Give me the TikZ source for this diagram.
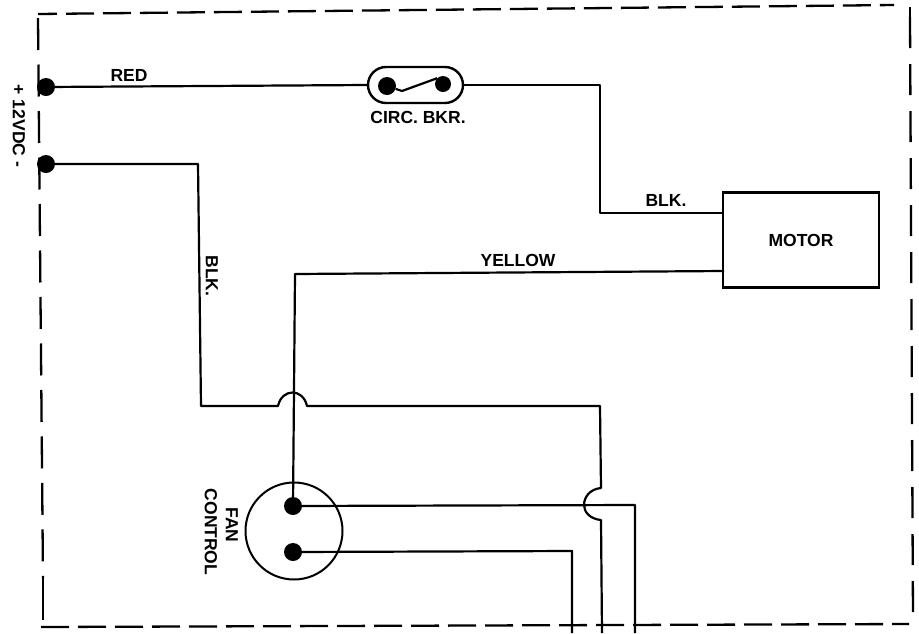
\documentclass[tikz,border=0pt]{standalone}
\usepackage{fontspec}
\setmainfont{Liberation Sans}
\usetikzlibrary{positioning}

\tikzset{
    wire/.style={line width=2.2pt, line join=round},
    border/.style={line width=2.3pt},
    terminal/.style={circle, fill=black, inner sep=0pt, minimum size=18pt},
    wirelabel/.style={font=\fontsize{17.5}{20}\selectfont\bfseries, inner sep=0pt}
}

\begin{document}
\begin{tikzpicture}[x=1pt, y=-1pt]
    \useasboundingbox (0, 0) rectangle (919, 633);

    % Draw the dashed enclosure, side by side
    \draw[border, dash pattern=on 28pt off 9pt, dash phase=9pt] (38, 14) -- (894, 5);
    \draw[border, dash pattern=on 31pt off 16pt] (910, 17) -- (913, 618);
    \draw[border] (910, 7) -- (910, 17);
    \draw[border, dash pattern=on 32pt off 14.5pt] (38, 18) -- (43, 578);
    \draw[border] (43, 578) -- (43, 620);
    \draw[border, dash pattern=on 28pt off 9pt] (41, 627) -- (909, 624);

    % Add the supply terminals
    \foreach \name/\y in {supplyplus/87, supplyminus/164} {
        \node[terminal] (\name) at (46, \y) {};
    }

    % Add the boxes
    \node[draw, line width=2.4pt, minimum width=156pt, minimum height=95pt, inner sep=0pt,
        wirelabel] (motor) at (801, 240) {\raisebox{-2pt}{MOTOR}};
    \node[draw, line width=2.4pt, rounded corners=18pt, minimum width=95pt, minimum height=36pt]
        (breaker) at (415.5, 85) {};
    \node[draw, circle, line width=2pt, minimum size=97pt, inner sep=0pt] (fan) at (294, 531) {};

    % Add the breaker and fan terminals
    \foreach \name/\x/\y/\size in {brkleft/387/86/18pt, brkright/443/84/16pt, fantop/293/506/18pt, fanbottom/293/552/18pt} {
        \node[terminal, minimum size=\size] (\name) at (\x, \y) {};
    }

    % Free ends of the wires
    \coordinate (motorin) at (724, 213);
    \coordinate (motorout) at (724, 271);
    \coordinate (exitone) at (572, 633);
    \coordinate (exittwo) at (602, 633);
    \coordinate (exitthree) at (635, 633);

    % Draw the wires
    \draw[wire] (supplyplus) -- (breaker.west);
    \draw[wire] (breaker.east) -- (600, 85) -- (600, 213) -- (motorin);
    \draw[wire] (brkleft) -- (402, 91) -- (brkright.north west);
    \draw[wire] (motorout) -- (295, 274) -- (fantop);
    \draw[wire] (supplyminus) -- (198, 164) -- (201, 406) -- (278, 406)
        .. controls (282, 388) and (303, 388) .. (307, 406)
        -- (600, 406) -- (601, 488)
        .. controls (590, 489) and (584, 497) .. (584, 505)
        .. controls (584, 512) and (590, 519) .. (601, 520) -- (exittwo);
    \draw[wire] (fantop) -- (635, 505) -- (exitthree);
    \draw[wire] (fanbottom) -- (572, 551) -- (exitone);

    % Add the labels
    \foreach \x/\y/\rot/\text in {129/75/0/RED, 418/117/0/CIRC. BKR., 666/200/0/BLK.,
        518/260/0/YELLOW, 212/276/-90/BLK., 19/126/-90/+ 12VDC -,
        232/525/-90/FAN, 211/532/-90/CONTROL} {
        \node[wirelabel, rotate=\rot] at (\x, \y) {\text};
    }

\end{tikzpicture}
\end{document}
